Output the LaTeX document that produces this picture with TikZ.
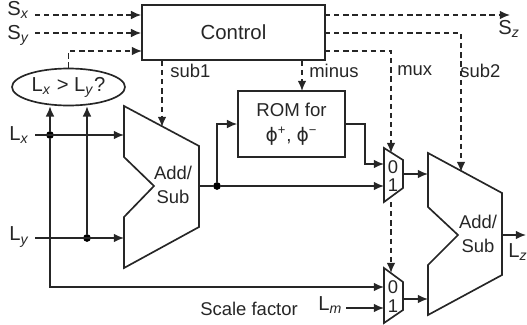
\documentclass[tikz,border=0pt]{standalone}
\usepackage{fontspec}
\setmainfont{Liberation Sans}
\newfontfamily\phifont{DejaVu Sans}
\usetikzlibrary{arrows.meta,positioning,calc,shapes.geometric}
\tikzset{
  block/.style={draw=black!85, line width=0.95pt, align=center, inner sep=0pt, font=\fontsize{10.6}{14}\selectfont, text=black!85},
  unit/.style={draw=black!85, line width=0.95pt, line join=miter},
  lbl/.style={inner sep=0pt, align=center, font=\fontsize{10.5}{14}\selectfont, text=black!85},
  pinlbl/.style={inner sep=0pt, anchor=west, font=\fontsize{11.5}{14}\selectfont, text=black!85},
  sig/.style={line width=0.95pt, draw=black!85},
  sigarrow/.style={-{Latex[length=5.8pt,width=5pt]}, line width=0.95pt, draw=black!85},
  ctlarrow/.style={-{Latex[length=5.8pt,width=5pt]}, line width=0.95pt, draw=black!85, dash pattern=on 3pt off 2.2pt},
  dot/.style={circle, fill=black, minimum size=4.4pt, inner sep=0pt}
}
\newcommand{\subit}[1]{\textsubscript{\textit{#1}}}
\begin{document}
\begin{tikzpicture}[x=0.2mm,y=-0.2mm]
\useasboundingbox (0,0) rectangle (527,325);
% blocks
\node[block, minimum width=36.6mm, minimum height=11mm, font=\fontsize{11.6}{14}\selectfont] (control) at (233.5,32.5) {Control};
\node[block, ellipse, minimum width=22.6mm, minimum height=7.4mm, font=\fontsize{11.5}{14}\selectfont] (cmp) at (68.5,87) {L\subit{x} > L\subit{y}?};
\node[block, minimum width=21.4mm, minimum height=13.2mm] (rom) at (291.5,124) {ROM for\\{\phifont ϕ}\textsuperscript{+}, {\phifont ϕ}\textsuperscript{−}};
% adders and muxes
\draw[unit] (124,106) -- (199,146) -- (199,227) -- (124,268) -- (124,217) -- (154,186) -- (124,157) -- cycle;
\draw[unit] (428,153) -- (502,193) -- (502,275) -- (428,315) -- (428,265) -- (458,235) -- (428,207) -- cycle;
\draw[unit] (384,148) -- (403,160) -- (403,188) -- (384,202) -- cycle;
\draw[unit] (384,268) -- (403,282) -- (403,310) -- (384,323) -- cycle;
\node[lbl] (addone) at (173,185) {Add/\\Sub};
\node[lbl] (addtwo) at (478,234) {Add/\\Sub};
\node[lbl] (muxazero) at (393,167) {0};
\node[lbl] (muxaone) at (393,185) {1};
\node[lbl] (muxbzero) at (393,287) {0};
\node[lbl] (muxbone) at (393,306) {1};
% inputs and outputs
\node[pinlbl] (sx) at (7,10) {S\subit{x}};
\node[pinlbl] (sy) at (7,35) {S\subit{y}};
\node[pinlbl] (sz) at (498,29) {S\subit{z}};
\node[pinlbl] (lx) at (9,135) {L\subit{x}};
\node[pinlbl] (ly) at (9,237) {L\subit{y}};
\node[pinlbl] (lz) at (508,252) {L\subit{z}};
\node[pinlbl] (lm) at (318,305) {L\subit{m}};
\node[lbl, anchor=west] (scale) at (200,309) {Scale factor};
\node[lbl, anchor=west] (subone) at (170,71) {sub1};
\node[lbl, anchor=west] (minus) at (309,71) {minus};
\node[lbl, anchor=west] (mux) at (397,71) {mux};
\node[lbl, anchor=west] (subtwo) at (460,71) {sub2};
\node[dot] (lxdot) at (50,135) {};
\node[dot] (lydot) at (87,238) {};
\node[dot] (sumdot) at (217,186) {};
% free ends
\coordinate (sxs) at (35,15);
\coordinate (sys) at (35,33);
\coordinate (lxs) at (35,135);
\coordinate (lys) at (35,238);
\coordinate (lms) at (346,308);
\coordinate (ctlc) at (142,51);
\coordinate (ctlx) at (325,15);
\coordinate (ctly) at (325,33);
\coordinate (ctlm) at (325,51);
\coordinate (szend) at (510,15);
\coordinate (addaup) at (162,127);
\coordinate (addbup) at (461,172);
\coordinate (romup) at (302,91);
\coordinate (addain) at (124,135);
\coordinate (addaib) at (124,238);
\coordinate (addaout) at (199,186);
\coordinate (addbia) at (428,174);
\coordinate (addbib) at (428,299);
\coordinate (addbout) at (502,235);
\coordinate (lzend) at (526,235);
\coordinate (muxatop) at (391,153);
\coordinate (muxabot) at (391,202);
\coordinate (muxbtop) at (391,273);
\coordinate (muxaia) at (384,164);
\coordinate (muxaib) at (384,186);
\coordinate (muxbia) at (384,287);
\coordinate (muxbib) at (384,308);
\coordinate (muxaout) at (403,174);
\coordinate (muxbout) at (403,299);
\coordinate (romturn) at (365,124);
% control lines
\draw[ctlarrow] (sxs) -- (sxs -| control.west);
\draw[ctlarrow] (sys) -- (sys -| control.west);
\draw[ctlarrow] (cmp.north) |- (ctlc);
\draw[ctlarrow] (ctlx) -- (szend);
\draw[ctlarrow] (ctly) -| (addbup);
\draw[ctlarrow] (ctlm) -| (muxatop);
\draw[ctlarrow] (addaup |- control.south) -- (addaup);
\draw[ctlarrow] (romup |- control.south) -- (romup);
\draw[ctlarrow] (muxabot) -- (muxbtop);
% data lines
\draw[sigarrow] (lxs) -- (addain);
\draw[sigarrow] (lys) -- (addaib);
\draw[sigarrow] (lxdot) -- (lxdot |- cmp.south);
\draw[sigarrow] (lydot) -- (lydot |- cmp.south);
\draw[sigarrow] (lxdot) |- (muxbia);
\draw[sig] (addaout) -- (sumdot);
\draw[sigarrow] (sumdot) -- (muxaib);
\draw[sigarrow] (sumdot) |- (rom.west);
\draw[sigarrow] (rom.east) -- (romturn) |- (muxaia);
\draw[sigarrow] (muxaout) -- (addbia);
\draw[sigarrow] (muxbout) -- (addbib);
\draw[sigarrow] (lms) -- (muxbib);
\draw[sigarrow] (addbout) -- (lzend);
\end{tikzpicture}
\end{document}
